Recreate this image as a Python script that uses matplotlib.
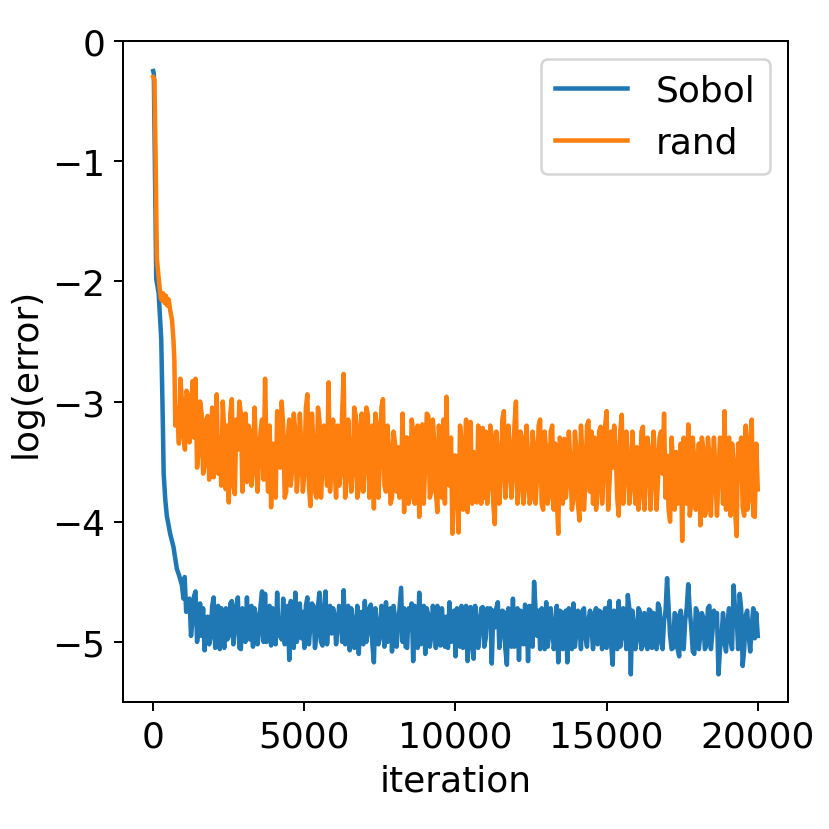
import numpy as np
import matplotlib
matplotlib.use("Agg")
import matplotlib.pyplot as plt

# early part of the runs (dense, read point by point)
sobol_x_start = [0, 20, 100, 180, 265, 320, 345, 400, 450, 560, 670, 730, 780, 860, 950, 1000, 1040, 1090]
sobol_y_start = [-0.25, -0.27, -1.98, -2.10, -2.48, -3.20, -3.60, -3.82, -3.95, -4.10, -4.21, -4.31,
                 -4.39, -4.45, -4.53, -4.64, -4.46, -4.75]

rand_x_start = [0, 40, 80, 120, 160, 210, 250, 290, 330, 380, 420, 460, 510, 560, 620, 670, 700, 730, 760]
rand_y_start = [-0.30, -0.32, -1.00, -1.81, -1.92, -2.05, -2.14, -2.16, -2.10, -2.18, -2.12, -2.20,
                -2.15, -2.24, -2.32, -2.49, -2.66, -3.20, -3.05]

# noisy plateau, read every 100 iterations ...
sobol_x_a = np.arange(1200, 20001, 100)
sobol_y_a = [
    -4.64, -4.81, -4.58, -4.88, -4.95, -5.07, -4.79, -4.96, -4.63, -4.92,
    -5.06, -4.85, -4.72, -4.95, -4.66, -4.90, -4.63, -5.06, -4.80, -4.63,
    -4.98, -5.04, -4.78, -4.92, -4.58, -4.60, -4.95, -5.03, -4.86, -4.59,
    -4.82, -4.64, -4.95, -5.15, -4.76, -4.59, -4.88, -4.97, -5.05, -4.63,
    -4.86, -4.70, -4.95, -4.59, -5.03, -4.58, -4.84, -4.93, -4.78, -4.88,
    -4.72, -4.57, -4.90, -5.07, -4.82, -4.95, -5.10, -4.75, -4.66, -4.92,
    -4.69, -5.17, -4.85, -4.96, -4.78, -4.67, -4.92, -5.08, -4.80, -4.88,
    -4.55, -4.72, -5.05, -4.90, -5.16, -4.84, -4.59, -4.80, -5.10, -4.78,
    -4.95, -4.82, -4.70, -5.03, -4.88, -4.79, -4.67, -4.98, -5.12, -4.85,
    -4.70, -4.95, -5.16, -4.71, -5.14, -4.82, -4.90, -4.71, -4.97, -4.85,
    -5.18, -4.88, -4.67, -4.93, -4.75, -5.19, -4.82, -4.64, -4.90, -5.15,
    -4.85, -4.69, -5.16, -4.78, -4.50, -4.95, -5.06, -4.82, -4.67, -4.93,
    -4.84, -4.98, -5.17, -4.75, -4.90, -5.17, -4.80, -4.68, -4.92, -4.85,
    -4.74, -4.96, -4.82, -4.88, -4.76, -5.02, -4.75, -4.90, -5.05, -4.66,
    -5.19, -4.88, -4.66, -4.95, -4.80, -4.61, -5.27, -4.86, -4.98, -4.75,
    -5.03, -4.90, -4.73, -5.05, -4.80, -4.68, -5.00, -4.82, -4.47, -4.95,
    -5.05, -4.78, -5.12, -4.90, -4.82, -4.52, -4.88, -5.10, -4.75, -4.94,
    -4.80, -5.03, -4.70, -4.92, -4.85, -5.27, -4.96, -5.00, -4.83, -4.99,
    -4.53, -4.78, -4.60, -5.20, -4.78, -4.95, -4.87, -4.97, -4.95,
]
# ... and the readings in between
sobol_x_b = np.arange(1250, 20000, 100)
sobol_y_b = [
    -4.95, -4.62, -5.00, -4.68, -4.72, -4.80, -5.02, -4.70, -5.05, -4.70,
    -4.72, -5.05, -4.98, -4.68, -5.02, -4.70, -5.05, -4.72, -5.00, -4.95,
    -4.70, -4.72, -5.02, -4.70, -5.00, -5.00, -4.70, -4.72, -5.02, -4.95,
    -4.98, -5.02, -4.70, -4.66, -5.05, -5.00, -4.68, -4.75, -4.70, -5.02,
    -4.68, -5.05, -4.70, -5.00, -4.72, -5.02, -4.70, -4.72, -5.02, -4.70,
    -5.00, -5.02, -4.70, -4.72, -5.05, -4.70, -4.76, -5.02, -5.00, -4.72,
    -5.02, -4.72, -5.02, -4.70, -5.04, -5.00, -4.72, -4.70, -5.04, -4.72,
    -5.00, -5.04, -4.72, -4.68, -4.70, -5.05, -5.02, -4.70, -4.72, -5.04,
    -4.70, -5.05, -5.00, -4.72, -5.04, -5.05, -5.00, -4.74, -4.72, -5.04,
    -5.05, -4.70, -4.72, -5.04, -4.70, -5.05, -4.72, -5.04, -4.72, -4.72,
    -4.74, -4.72, -5.05, -4.74, -5.06, -4.72, -5.04, -5.04, -4.72, -4.74,
    -5.02, -4.74, -4.70, -5.04, -4.74, -4.74, -4.72, -5.06, -5.04, -4.72,
    -5.06, -4.70, -4.74, -5.06, -4.74, -4.72, -5.06, -5.04, -4.74, -5.06,
    -4.72, -5.04, -4.74, -5.06, -4.72, -4.74, -5.06, -4.72, -4.74, -5.02,
    -4.74, -5.06, -5.04, -4.72, -5.06, -4.72, -4.74, -5.06, -4.72, -5.06,
    -4.76, -5.06, -4.74, -4.76, -5.06, -4.72, -5.06, -4.74, -4.72, -5.06,
    -4.76, -5.06, -4.74, -5.06, -4.72, -4.74, -5.08, -4.72, -5.06, -4.76,
    -5.06, -4.72, -5.06, -4.74, -4.76, -5.06, -4.76, -5.08, -4.72, -5.06,
    -4.74, -5.06, -4.72, -5.06, -4.74, -5.08, -4.72, -4.76,
]

rand_x_a = np.arange(800, 20001, 100)
rand_y_a = [
    -3.10, -2.81, -3.29, -2.91, -3.34, -2.83, -2.81, -3.42, -3.10, -3.53,
    -3.12, -3.40, -3.63, -2.94, -3.30, -3.00, -3.73, -3.84, -2.98, -3.77,
    -3.40, -3.10, -3.45, -3.67, -3.25, -3.55, -3.38, -3.50, -3.15, -2.81,
    -3.75, -3.88, -3.40, -3.08, -3.55, -3.20, -3.75, -3.15, -3.55, -3.25,
    -3.55, -3.38, -3.60, -2.94, -3.87, -3.35, -3.80, -3.16, -3.52, -3.40,
    -2.84, -3.45, -3.55, -3.20, -3.60, -2.77, -3.62, -3.45, -3.58, -3.12,
    -3.73, -3.10, -3.54, -3.11, -3.45, -3.89, -3.20, -3.50, -2.98, -3.75,
    -3.40, -3.80, -3.35, -3.38, -3.60, -3.92, -3.30, -3.78, -3.25, -3.55,
    -3.96, -3.19, -3.50, -3.12, -3.75, -3.35, -3.92, -3.42, -3.15, -2.96,
    -3.70, -4.10, -3.45, -4.09, -3.35, -3.48, -3.92, -3.17, -3.42, -3.84,
    -3.30, -3.22, -3.25, -3.70, -3.28, -4.02, -3.45, -3.62, -3.08, -3.60,
    -3.38, -3.62, -3.00, -3.72, -3.30, -3.70, -3.45, -3.80, -3.38, -3.62,
    -3.15, -3.90, -3.40, -3.78, -3.20, -3.35, -4.10, -3.35, -3.31, -3.65,
    -3.50, -3.81, -3.40, -3.99, -3.45, -3.68, -3.16, -3.25, -3.30, -3.75,
    -3.21, -3.60, -3.08, -3.65, -3.55, -3.40, -3.95, -3.11, -3.60, -3.48,
    -3.70, -3.50, -3.38, -3.78, -3.21, -3.60, -3.42, -3.63, -3.45, -3.65,
    -3.25, -3.10, -3.45, -4.00, -3.55, -3.42, -3.60, -4.16, -3.45, -3.19,
    -3.85, -3.50, -3.70, -4.03, -3.40, -3.90, -3.45, -3.55, -3.60, -3.62,
    -3.35, -3.08, -3.45, -3.95, -3.50, -4.12, -3.55, -3.88, -3.20, -3.82,
    -3.15, -3.96, -3.73,
]
rand_x_b = np.arange(850, 20000, 100)
rand_y_b = [
    -3.35, -3.00, -3.40, -2.95, -3.10, -3.30, -3.55, -3.00, -3.60, -3.15,
    -3.65, -3.05, -3.30, -3.60, -3.70, -3.25, -3.20, -3.10, -3.70, -3.15,
    -3.00, -3.75, -3.10, -3.20, -3.70, -3.05, -3.75, -3.25, -3.65, -3.45,
    -3.20, -3.35, -3.80, -3.25, -3.00, -3.80, -3.30, -3.70, -3.10, -3.75,
    -3.10, -3.75, -3.05, -3.70, -3.10, -3.75, -3.05, -3.80, -3.20, -3.70,
    -3.75, -3.15, -3.80, -3.70, -3.10, -3.80, -3.15, -3.75, -3.05, -3.80,
    -3.20, -3.75, -3.05, -3.80, -3.20, -3.10, -3.80, -3.05, -3.70, -3.20,
    -3.85, -3.25, -3.75, -3.80, -3.10, -3.30, -3.85, -3.15, -3.85, -3.20,
    -3.30, -3.85, -3.10, -3.80, -3.15, -3.75, -3.20, -3.80, -3.85, -3.60,
    -3.30, -3.45, -3.80, -3.20, -3.90, -3.15, -3.30, -3.85, -3.75, -3.20,
    -3.85, -3.80, -3.85, -3.20, -3.85, -3.25, -3.85, -3.15, -3.80, -3.20,
    -3.80, -3.20, -3.85, -3.25, -3.85, -3.20, -3.85, -3.25, -3.85, -3.20,
    -3.85, -3.25, -3.85, -3.25, -3.90, -3.80, -3.30, -3.85, -3.80, -3.25,
    -3.90, -3.25, -3.85, -3.20, -3.90, -3.20, -3.75, -3.85, -3.90, -3.25,
    -3.85, -3.20, -3.90, -3.25, -3.20, -3.80, -3.25, -3.85, -3.25, -3.85,
    -3.25, -3.85, -3.90, -3.25, -3.90, -3.30, -3.90, -3.25, -3.90, -3.30,
    -3.60, -3.80, -3.90, -3.30, -3.90, -3.85, -3.35, -3.30, -3.85, -3.95,
    -3.30, -3.90, -3.35, -3.30, -3.95, -3.30, -3.95, -3.30, -3.95, -3.30,
    -3.85, -3.90, -3.30, -3.35, -3.90, -3.35, -3.30, -3.95, -3.90, -3.30,
    -3.95, -3.35,
]


def merge(xs, ys):
    x = np.concatenate(xs)
    y = np.concatenate(ys)
    order = np.argsort(x, kind='stable')
    return x[order], y[order]


sobol_x, sobol_y = merge([sobol_x_start, sobol_x_a, sobol_x_b], [sobol_y_start, sobol_y_a, sobol_y_b])
rand_x, rand_y = merge([rand_x_start, rand_x_a, rand_x_b], [rand_y_start, rand_y_a, rand_y_b])

plt.rcParams['font.size'] = 14.4
fig = plt.figure(figsize=(830 / 180, 830 / 180), dpi=180)
ax = fig.add_axes([123 / 830, 1 - 703 / 830, 665 / 830, 661 / 830])

ax.plot(sobol_x, sobol_y, label='Sobol', lw=1.8)
ax.plot(rand_x, rand_y, label='rand', lw=1.8)
ax.set_xlim(-1000, 21000)
ax.set_ylim(-5.5, 0)
ax.set_xticks([0, 5000, 10000, 15000, 20000])
ax.set_yticks([0, -1, -2, -3, -4, -5])
ax.set_xlabel('iteration')
ax.set_ylabel('log(error)')
ax.legend(loc='upper right')

fig.savefig('out.png', dpi=180)
